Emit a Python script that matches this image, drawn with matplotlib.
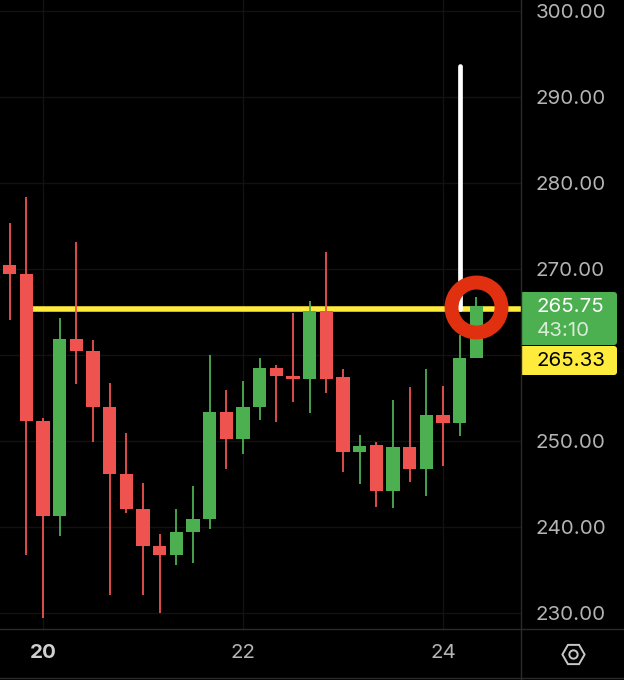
# Candlestick chart with a drawn-on resistance line and ring marker

import numpy as np
import matplotlib
matplotlib.use("Agg")
import matplotlib.pyplot as plt
from matplotlib.patches import FancyBboxPatch, Rectangle

plt.rcParams['font.family'] = ['Inter', 'DejaVu Sans']

opens = [270.47, 269.42, 252.33, 241.28, 261.86, 260.47, 253.95, 246.16, 242.15, 237.79,
         236.74, 239.42, 240.93, 253.37, 250.23, 253.95, 258.49, 257.60, 257.21, 265.12,
         257.40, 248.72, 249.53, 244.19, 249.30, 246.74, 253.02, 252.09, 259.65]
highs = [275.35, 278.37, 252.67, 264.30, 273.14, 261.74, 256.74, 250.93, 245.12, 239.19,
         242.09, 244.77, 260.00, 255.93, 256.98, 259.65, 258.84, 264.88, 266.28, 271.98,
         258.37, 250.70, 249.88, 254.77, 256.28, 258.37, 256.40, 262.33, 266.74]
lows = [264.07, 236.74, 229.42, 238.95, 256.63, 249.88, 232.09, 241.63, 232.09, 230.00,
        235.58, 235.81, 239.77, 246.74, 248.49, 252.44, 252.21, 254.53, 253.26, 255.58,
        246.40, 245.00, 242.33, 242.21, 245.23, 243.60, 247.09, 250.58, 259.65]
closes = [269.42, 252.33, 241.28, 261.86, 260.47, 253.95, 246.16, 242.09, 237.79, 236.74,
          239.42, 240.93, 253.37, 250.23, 253.95, 258.49, 257.56, 257.21, 265.12, 257.21,
          248.72, 249.42, 244.19, 249.30, 246.74, 253.02, 252.09, 259.65, 265.75]

price_ticks = [230, 240, 250, 260, 270, 280, 290, 300]
price_labels = ["230.00", "240.00", "250.00", "", "270.00", "280.00", "290.00", "300.00"]
date_ticks = [2, 14, 26]
date_labels = ["20", "22", "24"]

level = 265.33
arrow_top = 293.6
last_price = "265.75"
countdown = "43:10"
level_label = "265.33"

RED = "#EF5350"
GREEN = "#4CAF50"
YELLOW = "#FFEB3B"
GRID = "#121212"
SEP = "#2b2b2b"
TEXT = "#b4b4b4"

fig = plt.figure(figsize=(6.24, 6.80), dpi=100, facecolor="black")
ax = fig.add_axes([0, 51 / 680, 521 / 624, 629 / 680], facecolor="black")

x = np.arange(len(opens))
o = np.array(opens)
c = np.array(closes)
colors = [GREEN if b >= a else RED for a, b in zip(o, c)]

ax.hlines(level, 1, 31, color=YELLOW, lw=4, zorder=2)
ax.vlines(x, lows, highs, color=colors, lw=1.3, zorder=3)
ax.bar(x, np.abs(c - o), bottom=np.minimum(o, c), width=0.8, color=colors, zorder=4)

ax.plot([27, 27], [arrow_top, level], color="white", lw=3.4, solid_capstyle="round", zorder=5)
ax.plot([28], [level + 0.2], marker="o", ms=36, mfc="none", mec="#E03010", mew=10, zorder=6)

ax.set_xlim(-0.57, 30.68)
ax.set_ylim(230 + (613 - 629) / 8.6, 230 + 613 / 8.6)
ax.grid(True, color=GRID, lw=1)
ax.set_axisbelow(True)
for s in ax.spines.values():
    s.set_visible(False)

ax.yaxis.tick_right()
ax.set_yticks(price_ticks)
ax.set_yticklabels(price_labels, fontsize=14.8, color=TEXT)
ax.tick_params(axis="y", length=0, pad=10.5)
ax.set_xticks(date_ticks)
ax.set_xticklabels(date_labels, fontsize=14.8, color=TEXT)
ax.tick_params(axis="x", length=0, pad=11)
ax.get_xticklabels()[0].set_fontweight("bold")
ax.get_xticklabels()[0].set_color("#d0d0d0")

# overlay in pixel coordinates for the price tags and separators
ov = fig.add_axes([0, 0, 1, 1], facecolor="none")
ov.set_xlim(0, 624)
ov.set_ylim(680, 0)
ov.axis("off")

ov.plot([521, 521], [0, 680], color=SEP, lw=1)
ov.plot([0, 624], [629, 629], color=SEP, lw=1)
ov.plot([0, 624], [677.5, 677.5], color=SEP, lw=1)

for top, bottom, col in [(292, 345, GREEN), (346, 375, YELLOW)]:
    ov.add_patch(FancyBboxPatch((530, top + 3), 84, bottom - top - 6,
                                boxstyle="round,pad=3", fc=col, ec="none"))
    ov.add_patch(Rectangle((522, top), 20, bottom - top, fc=col, ec="none"))

ov.text(536.5, 306.5, last_price, fontsize=14.8, color="white", va="center", ha="left")
ov.text(536.5, 331, countdown, fontsize=14.8, color="#d8ecd8", va="center", ha="left")
ov.text(536.5, 360.5, level_label, fontsize=14.8, color="black", va="center", ha="left")

ov.plot([573], [653.5], marker="H", ms=16, mfc="none", mec="#c8c8c8", mew=1.4)
ov.plot([573], [653.5], marker="o", ms=6, mfc="none", mec="#c8c8c8", mew=1.4)

fig.savefig("out.png", dpi=100, facecolor="black")
